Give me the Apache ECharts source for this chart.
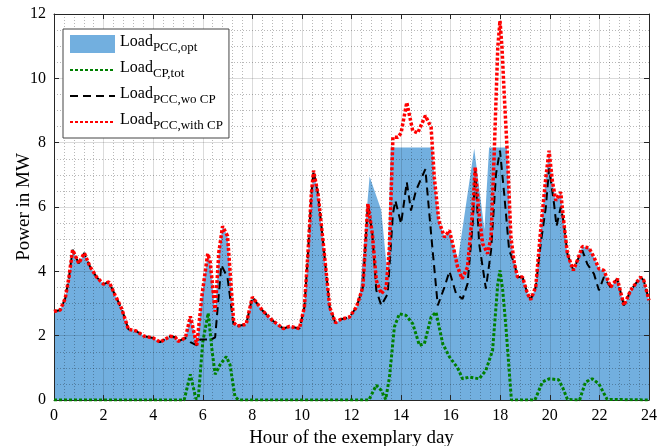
<!DOCTYPE html>
<html>
<head>
<meta charset="utf-8">
<script src="https://cdn.jsdelivr.net/npm/echarts@6/dist/echarts.min.js"></script>
<style>
html,body{margin:0;padding:0;background:#fff}
#main{width:672px;height:446px}
</style>
</head>
<body>
<div id="main"></div>
<script>
// load at the PCC with charging points (red dotted)
var withHours = [0,0.25,0.45,0.6,0.75,1.0,1.22,1.45,1.72,2.0,2.22,2.47,2.73,3.0,3.3,3.65,4.0,4.28,4.68,4.9,5.0,5.3,5.5,5.62,5.76,5.96,6.2,6.3,6.5,6.65,6.8,7.0,7.25,7.4,7.75,8.0,8.1,8.4,8.8,9.25,9.5,9.9,10.1,10.25,10.38,10.47,10.65,10.85,11.12,11.35,11.55,11.92,12.2,12.46,12.66,12.73,12.84,13.0,13.2,13.4,13.53,13.67,13.87,14.0,14.23,14.47,14.67,14.98,15.21,15.34,15.52,15.75,15.95,16.08,16.28,16.46,16.68,16.89,16.99,17.13,17.29,17.49,17.63,17.76,17.9,17.99,18.07,18.16,18.3,18.43,18.57,18.7,18.9,19.1,19.23,19.43,19.64,19.84,19.97,20.1,20.24,20.44,20.57,20.71,20.95,21.11,21.31,21.58,21.78,21.98,22.18,22.45,22.72,22.99,23.26,23.66,23.79,24.0];
var withLoad = [2.75,2.8,3.15,3.8,4.67,4.25,4.57,4.15,3.82,3.6,3.67,3.25,2.84,2.2,2.15,1.98,1.93,1.8,1.98,1.95,1.82,1.93,2.6,2.2,1.7,3.2,4.55,4.3,2.75,4.6,5.4,5.1,2.4,2.3,2.35,3.2,3.1,2.79,2.48,2.22,2.29,2.22,2.89,4.65,6.4,7.13,6.4,4.96,2.89,2.4,2.5,2.58,2.89,3.51,6.1,6.1,5.17,3.72,3.3,3.5,4.75,8.17,8.17,8.3,9.25,8.37,8.3,8.84,8.48,6.92,5.58,5.06,5.27,4.86,4.13,3.77,4.13,5.89,7.24,5.89,4.86,4.55,5.06,7.75,10.96,11.79,10.96,9.51,7.44,5.06,4.24,3.82,3.82,3.3,3.12,3.51,5.37,6.93,7.75,6.82,6.2,6.46,5.48,4.54,4.03,4.34,4.77,4.73,4.44,4.08,4.03,3.51,3.77,2.94,3.41,3.82,3.72,3.1];

// load at the PCC without charging points (black dashed)
var woHours = [0,0.25,0.45,0.6,0.75,1.0,1.22,1.45,1.72,2.0,2.22,2.47,2.73,3.0,3.3,3.65,4.0,4.28,4.68,4.9,5.0,5.3,5.5,5.76,5.9,6.35,6.5,6.75,7.0,7.25,7.4,7.75,8.0,8.1,8.4,8.8,9.25,9.5,9.9,10.1,10.25,10.38,10.47,10.65,10.85,11.12,11.35,11.55,11.92,12.2,12.46,12.66,12.73,12.84,13.0,13.2,13.46,13.67,13.77,14.0,14.23,14.4,14.6,14.98,15.21,15.48,15.75,15.95,16.22,16.48,16.68,16.89,16.99,17.15,17.42,17.63,17.83,17.99,18.16,18.36,18.57,18.7,18.9,19.1,19.23,19.43,19.64,19.84,19.97,20.17,20.27,20.44,20.57,20.71,20.95,21.11,21.31,21.51,21.78,21.98,22.18,22.45,22.72,22.99,23.26,23.66,23.79,24.0];
var woLoad = [2.75,2.8,3.15,3.8,4.67,4.25,4.57,4.15,3.82,3.6,3.67,3.25,2.84,2.2,2.15,1.98,1.93,1.8,1.98,1.95,1.82,1.93,1.8,1.7,1.88,1.88,1.95,4.2,3.8,2.3,2.3,2.35,3.2,3.1,2.79,2.48,2.22,2.29,2.22,2.89,4.65,6.4,7.13,6.4,4.96,2.89,2.4,2.5,2.58,2.89,3.51,6.1,6.1,5.17,3.41,2.94,3.3,5.78,6.2,5.48,6.77,5.89,6.51,7.18,5.17,2.94,3.51,4.0,3.3,3.14,3.61,5.48,7.14,4.86,3.46,4.65,7.03,7.75,6.4,4.65,4.24,3.82,3.82,3.3,3.12,3.51,4.9,6.0,7.2,6.1,5.4,6.0,5.48,4.54,4.03,4.34,4.65,4.23,3.92,3.41,3.82,3.51,3.77,2.94,3.41,3.82,3.72,3.1];

// total load of the charging points (green dotted)
var cpHours = [0,5.25,5.5,5.72,5.82,6.0,6.22,6.38,6.5,6.7,6.95,7.1,7.3,7.45,12.7,13.0,13.2,13.38,13.53,13.73,13.93,14.2,14.47,14.74,14.94,15.21,15.41,15.68,15.95,16.28,16.48,16.75,17.15,17.42,17.69,17.9,17.99,18.1,18.23,18.36,18.45,19.4,19.7,19.97,20.35,20.51,20.71,21.2,21.44,21.71,21.98,22.31,22.35,24];
var cpLoad = [0,0,0.8,0.05,0.05,1.8,2.7,1.5,0.8,1.1,1.35,1.1,0.1,0,0,0.46,0.3,0.02,0.7,2.27,2.68,2.63,2.37,1.7,1.75,2.58,2.73,1.75,1.34,1.0,0.66,0.71,0.66,0.92,1.54,3.61,4.03,3.41,2.27,0.92,0,0,0.56,0.66,0.63,0.4,0.02,0,0.56,0.66,0.5,0.02,0,0];

// optimised load at the PCC (blue area)
var optHours = [0,0.25,0.45,0.6,0.75,1.0,1.22,1.45,1.72,2.0,2.22,2.47,2.73,3.0,3.3,3.65,4.0,4.28,4.68,4.9,5.0,5.3,5.5,5.62,5.76,5.96,6.2,6.3,6.5,6.65,6.8,7.0,7.25,7.4,7.75,8.0,8.1,8.4,8.8,9.25,9.5,9.9,10.1,10.25,10.38,10.47,10.65,10.85,11.12,11.35,11.55,11.92,12.2,12.3,12.73,13.2,13.45,13.58,15.27,15.34,15.52,15.75,15.95,16.08,16.3,16.95,17.36,17.55,18.27,18.43,18.57,18.7,18.9,19.1,19.23,19.43,19.64,19.84,19.97,20.1,20.24,20.44,20.57,20.71,20.95,21.11,21.31,21.58,21.78,21.98,22.18,22.45,22.72,22.99,23.26,23.66,23.79,24.0];
var optLoad = [2.75,2.8,3.15,3.8,4.67,4.25,4.57,4.15,3.82,3.6,3.67,3.25,2.84,2.2,2.15,1.98,1.93,1.8,1.98,1.95,1.82,1.93,2.6,2.2,1.7,3.2,4.55,4.3,2.75,4.6,5.4,5.1,2.4,2.3,2.35,3.2,3.1,2.79,2.48,2.22,2.29,2.22,2.89,4.65,6.4,7.13,6.4,4.96,2.89,2.4,2.5,2.58,2.89,3.0,6.95,5.9,3.9,7.85,7.85,6.92,5.58,5.06,5.27,4.86,4.4,7.82,5.3,7.85,7.85,5.06,4.24,3.82,3.82,3.3,3.12,3.51,5.37,6.93,7.75,6.82,6.2,6.46,5.48,4.54,4.03,4.34,4.77,4.73,4.44,4.08,4.03,3.51,3.77,2.94,3.41,3.82,3.72,3.1];

var legendSub = {
  'opt': 'PCC,opt',
  'cp': 'CP,tot',
  'wo': 'PCC,wo CP',
  'with': 'PCC,with CP'
};

function pairs(xs, ys) {
  return xs.map(function (x, i) { return [x, ys[i]]; });
}

var font = 'Liberation Serif';
var myChart = echarts.init(document.getElementById('main'));

var option = {
  animation: false,
  textStyle: { fontFamily: font },
  grid: { left: 54, right: 23, top: 14, bottom: 46, containLabel: false, outerBoundsMode: 'none' },
  legend: {
    left: 63, top: 29,
    orient: 'vertical',
    backgroundColor: '#fff',
    borderColor: '#444',
    borderWidth: 1,
    borderRadius: 0,
    padding: [5, 6, 6, 6],
    itemWidth: 45,
    itemHeight: 18,
    itemGap: 6,
    data: [
      { name: 'opt', icon: 'rect' },
      { name: 'cp', itemStyle: { opacity: 0 } },
      { name: 'wo', itemStyle: { opacity: 0 } },
      { name: 'with', itemStyle: { opacity: 0 } }
    ],
    formatter: function (name) {
      return '{m|Load}{s|' + legendSub[name] + '}';
    },
    textStyle: {
      fontFamily: font,
      color: '#000',
      rich: {
        m: { fontFamily: font, fontSize: 16, lineHeight: 20, verticalAlign: 'bottom', padding: [0, 0, 4, 0], color: '#000' },
        s: { fontFamily: font, fontSize: 13, lineHeight: 14, verticalAlign: 'bottom', color: '#000' }
      }
    }
  },
  xAxis: [{
    type: 'value', min: 0, max: 24, interval: 2, z: 3,
    position: 'bottom',
    name: 'Hour of the exemplary day', nameLocation: 'middle', nameGap: 27,
    nameTextStyle: { fontFamily: font, fontSize: 19, color: '#000' },
    axisLine: { onZero: false, lineStyle: { color: '#262626', width: 1 } },
    axisTick: { inside: true, length: 5, lineStyle: { color: '#262626' } },
    axisLabel: { fontFamily: font, fontSize: 16, color: '#000', margin: 8 },
    splitLine: { show: true, lineStyle: { color: 'rgba(0,0,0,0.14)', width: 1 } },
    minorTick: { show: false, splitNumber: 5 },
    minorSplitLine: { show: true, lineStyle: { color: 'rgba(0,0,0,0.28)', width: 1, type: [1, 2] } }
  }, {
    type: 'value', min: 0, max: 24, interval: 2, z: 3,
    position: 'top',
    axisLine: { onZero: false, lineStyle: { color: '#262626', width: 1 } },
    axisTick: { inside: true, length: 5, lineStyle: { color: '#262626' } },
    axisLabel: { show: false },
    splitLine: { show: false }
  }],
  yAxis: [{
    type: 'value', min: 0, max: 12, interval: 2, z: 3,
    position: 'left',
    name: 'Power in MW', nameLocation: 'middle', nameGap: 20,
    nameMoveOverlap: false,
    nameTextStyle: { fontFamily: font, fontSize: 19, color: '#000' },
    axisLine: { show: true, onZero: false, lineStyle: { color: '#262626', width: 1 } },
    axisTick: { show: true, inside: true, length: 5, lineStyle: { color: '#262626' } },
    axisLabel: { fontFamily: font, fontSize: 16, color: '#000', margin: 8 },
    splitLine: { show: true, lineStyle: { color: 'rgba(0,0,0,0.14)', width: 1 } },
    minorTick: { show: false, splitNumber: 4 },
    minorSplitLine: { show: true, lineStyle: { color: 'rgba(0,0,0,0.28)', width: 1, type: [1, 2] } }
  }, {
    type: 'value', min: 0, max: 12, interval: 2, z: 3,
    position: 'right',
    axisLine: { show: true, onZero: false, lineStyle: { color: '#262626', width: 1 } },
    axisTick: { show: true, inside: true, length: 5, lineStyle: { color: '#262626' } },
    axisLabel: { show: false },
    splitLine: { show: false }
  }],
  series: [{
    name: 'opt',
    type: 'line',
    data: pairs(optHours, optLoad),
    showSymbol: false, symbol: 'none',
    itemStyle: { color: '#72afdf' },
    lineStyle: { width: 0, color: '#72afdf' },
    areaStyle: { color: '#72afdf', opacity: 1 },
    z: 1
  }, {
    name: 'cp',
    type: 'line',
    data: pairs(cpHours, cpLoad),
    showSymbol: false, symbol: 'none',
    itemStyle: { color: '#008000' },
    lineStyle: { width: 3, color: '#008000', type: [3, 2] },
    z: 4
  }, {
    name: 'wo',
    type: 'line',
    data: pairs(woHours, woLoad),
    showSymbol: false, symbol: 'none',
    itemStyle: { color: '#000' },
    lineStyle: { width: 2, color: '#000', type: [8, 5] },
    z: 5
  }, {
    name: 'with',
    type: 'line',
    data: pairs(withHours, withLoad),
    showSymbol: false, symbol: 'none',
    itemStyle: { color: '#ff0000' },
    lineStyle: { width: 3.5, color: '#ff0000', type: [3, 2] },
    z: 6
  }]
};

myChart.setOption(option);
</script>
</body>
</html>
